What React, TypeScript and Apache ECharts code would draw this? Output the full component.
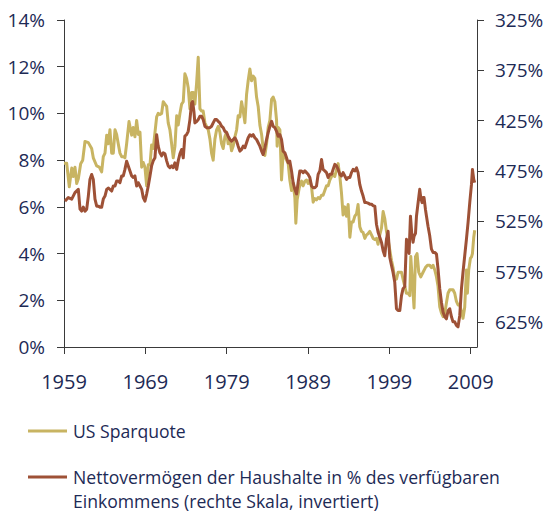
import React, { useEffect, useRef } from "react";
import * as echarts from "echarts";

const yearTicks = [1959, 1969, 1979, 1989, 1999, 2009];
const leftTicks = [0, 2, 4, 6, 8, 10, 12, 14];
const rightTicks = [325, 375, 425, 475, 525, 575, 625];

const seriesNames = [
  "US Sparquote",
  "Nettovermögen der Haushalte in % des verfügbaren",
  "Einkommens (rechte Skala, invertiert)",
];

const savingsYears = [
  1959.0, 1959.33, 1959.65, 1959.95, 1960.14, 1960.35, 1960.56, 1960.76, 1961.05, 1961.3,
  1961.58, 1961.99, 1962.4, 1962.6, 1963.02, 1963.34, 1963.63, 1963.83, 1964.04, 1964.25,
  1964.44, 1964.65, 1964.86, 1965.06, 1965.27, 1965.47, 1965.67, 1965.88, 1966.09, 1966.29,
  1966.49, 1966.7, 1966.99, 1967.32, 1967.51, 1967.72, 1967.93, 1968.13, 1968.34, 1968.55,
  1968.74, 1968.95, 1969.16, 1969.36, 1969.57, 1969.77, 1969.97, 1970.39, 1970.58, 1970.79,
  1971.0, 1971.2, 1971.41, 1971.62, 1971.81, 1972.02, 1972.23, 1972.43, 1972.64, 1972.85,
  1973.04, 1973.25, 1973.46, 1973.66, 1973.86, 1974.07, 1974.27, 1974.48, 1974.69, 1974.88,
  1975.09, 1975.3, 1975.5, 1975.71, 1975.92, 1976.11, 1976.32, 1976.73, 1976.94, 1977.14,
  1977.34, 1977.55, 1977.76, 1977.96, 1978.16, 1978.37, 1978.57, 1978.78, 1978.99, 1979.18,
  1979.39, 1979.6, 1979.8, 1980.01, 1980.22, 1980.41, 1980.62, 1980.83, 1981.03, 1981.24,
  1981.44, 1981.64, 1981.85, 1982.06, 1982.26, 1982.46, 1982.67, 1982.87, 1983.08, 1983.29,
  1983.48, 1983.69, 1983.9, 1984.1, 1984.31, 1984.52, 1984.71, 1984.92, 1985.13, 1985.2,
  1985.33, 1985.54, 1985.74, 1985.94, 1986.15, 1986.36, 1986.56, 1986.76, 1986.97, 1987.17,
  1987.38, 1987.5, 1987.66, 1987.91, 1988.08, 1988.2, 1988.4, 1988.61, 1988.82, 1989.01,
  1989.22, 1989.43, 1989.63, 1989.84, 1990.04, 1990.24, 1990.45, 1990.66, 1990.85, 1991.06,
  1991.27, 1991.47, 1991.68, 1991.89, 1992.08, 1992.29, 1992.5, 1992.7, 1992.91, 1993.11,
  1993.31, 1993.52, 1993.73, 1993.93, 1994.14, 1994.34, 1994.54, 1994.75, 1994.96, 1995.15,
  1995.36, 1995.57, 1995.77, 1995.98, 1996.19, 1996.38, 1996.59, 1996.8, 1997.0, 1997.21,
  1997.41, 1997.61, 1997.82, 1998.03, 1998.23, 1998.43, 1998.64, 1998.84, 1999.05, 1999.26,
  1999.45, 1999.66, 1999.87, 2000.07, 2000.28, 2000.49, 2000.68, 2000.89, 2001.1, 2001.3,
  2001.51, 2001.63, 2001.79, 2002.03, 2002.21, 2002.4, 2002.61, 2002.86, 2003.14, 2003.43,
  2003.68, 2003.96, 2004.17, 2004.37, 2004.58, 2004.79, 2004.98, 2005.19, 2005.4, 2005.6,
  2005.81, 2006.01, 2006.21, 2006.42, 2006.63, 2006.82, 2007.03, 2007.24, 2007.44, 2007.65,
  2007.86, 2008.05, 2008.26, 2008.47, 2008.59, 2008.75, 2008.96, 2009.09, 2009.21, 2009.37,
  2009.49,
];

const savingsRate = [
  7.87, 7.87, 6.86, 7.66, 7.3, 7.7, 7.0, 7.2, 7.85, 8.0,
  8.8, 8.75, 8.5, 8.1, 7.75, 7.7, 7.5, 8.15, 8.3, 9.07,
  8.7, 9.3, 8.3, 8.3, 9.3, 9.1, 8.7, 8.3, 8.15, 8.15,
  8.1, 8.7, 9.65, 9.07, 9.4, 9.0, 9.7, 9.1, 9.2, 7.7,
  7.9, 7.7, 6.9, 7.8, 7.8, 8.65, 8.5, 9.85, 10.0, 9.95,
  10.0, 10.5, 10.4, 10.3, 9.6, 9.3, 8.7, 8.1, 8.6, 9.9,
  9.5, 10.0, 10.4, 10.5, 11.7, 11.5, 11.1, 10.2, 10.9, 10.9,
  10.4, 11.3, 12.4, 10.2, 10.1, 10.1, 9.6, 9.3, 8.9, 8.3,
  8.0, 8.9, 9.3, 9.45, 9.2, 8.7, 8.5, 9.0, 9.2, 8.7,
  8.9, 8.4, 8.6, 9.0, 9.3, 9.9, 9.85, 10.5, 10.1, 9.6,
  10.8, 11.4, 11.9, 11.4, 11.6, 11.5, 10.7, 10.3, 9.5, 9.1,
  8.5, 8.2, 8.7, 9.4, 9.7, 10.6, 10.7, 10.5, 9.7, 8.6,
  9.4, 9.3, 7.15, 8.3, 8.15, 8.0, 7.85, 7.15, 6.7, 7.0,
  6.4, 5.3, 6.3, 6.8, 7.0, 7.1, 6.9, 7.1, 7.15, 7.0,
  7.15, 6.85, 6.2, 6.35, 6.3, 6.4, 6.35, 6.5, 6.5, 6.7,
  6.9, 6.9, 7.15, 7.3, 7.4, 7.3, 7.6, 7.85, 7.3, 6.6,
  5.65, 6.0, 5.6, 6.1, 4.7, 5.35, 5.35, 5.6, 5.7, 6.1,
  5.15, 4.95, 4.9, 4.65, 4.8, 4.85, 4.95, 4.8, 4.65, 4.6,
  4.65, 4.4, 4.8, 5.1, 5.8, 5.5, 4.95, 4.6, 4.15, 3.7,
  3.4, 2.9, 2.9, 3.2, 3.2, 3.2, 2.9, 2.6, 2.3, 2.3,
  2.2, 3.87, 3.0, 1.67, 3.87, 4.0, 3.2, 3.0, 3.2, 3.4,
  3.5, 3.5, 3.4, 3.5, 3.3, 3.0, 2.6, 1.72, 1.45, 1.3,
  1.45, 1.88, 2.3, 2.45, 2.45, 2.45, 2.3, 1.95, 1.8, 1.8,
  1.5, 1.23, 1.7, 3.3, 2.3, 3.3, 3.8, 3.85, 4.0, 4.7,
  5.0,
];

const wealthYears = [
  1959.12, 1959.53, 1959.95, 1960.35, 1960.76, 1960.97, 1961.17, 1961.37, 1961.58, 1961.79,
  1961.99, 1962.19, 1962.4, 1962.6, 1962.81, 1963.02, 1963.21, 1963.42, 1963.63, 1963.83,
  1964.04, 1964.25, 1964.44, 1964.65, 1964.86, 1965.06, 1965.27, 1965.47, 1965.67, 1965.88,
  1966.09, 1966.29, 1966.49, 1966.7, 1966.9, 1967.11, 1967.32, 1967.51, 1967.72, 1967.93,
  1968.13, 1968.34, 1968.55, 1968.74, 1968.95, 1969.16, 1969.36, 1969.57, 1969.77, 1969.97,
  1970.18, 1970.39, 1970.58, 1970.79, 1971.0, 1971.2, 1971.41, 1971.62, 1971.81, 1972.02,
  1972.23, 1972.43, 1972.64, 1972.85, 1973.04, 1973.25, 1973.46, 1973.66, 1973.86, 1974.07,
  1974.27, 1974.48, 1974.69, 1974.81, 1974.97, 1975.09, 1975.3, 1975.5, 1975.71, 1975.92,
  1976.11, 1976.32, 1976.53, 1976.73, 1976.94, 1977.14, 1977.34, 1977.55, 1977.76, 1977.96,
  1978.16, 1978.37, 1978.57, 1978.78, 1978.99, 1979.18, 1979.39, 1979.6, 1979.8, 1980.01,
  1980.22, 1980.41, 1980.62, 1980.83, 1981.03, 1981.24, 1981.44, 1981.64, 1981.85, 1982.06,
  1982.26, 1982.46, 1982.67, 1982.87, 1983.08, 1983.29, 1983.48, 1983.69, 1983.9, 1984.1,
  1984.31, 1984.52, 1984.71, 1984.92, 1985.13, 1985.33, 1985.54, 1985.74, 1985.94, 1986.15,
  1986.36, 1986.56, 1986.76, 1986.97, 1987.17, 1987.38, 1987.59, 1987.78, 1987.99, 1988.2,
  1988.4, 1988.61, 1988.82, 1989.01, 1989.22, 1989.43, 1989.63, 1989.84, 1990.04, 1990.24,
  1990.45, 1990.66, 1990.85, 1991.06, 1991.27, 1991.47, 1991.68, 1991.89, 1992.08, 1992.29,
  1992.5, 1992.7, 1992.91, 1993.11, 1993.31, 1993.52, 1993.73, 1993.93, 1994.14, 1994.34,
  1994.54, 1994.75, 1994.96, 1995.15, 1995.36, 1995.57, 1995.77, 1995.98, 1996.19, 1996.38,
  1996.59, 1996.8, 1997.0, 1997.21, 1997.41, 1997.61, 1997.82, 1998.03, 1998.23, 1998.43,
  1998.64, 1998.84, 1999.05, 1999.26, 1999.45, 1999.66, 1999.87, 2000.07, 2000.28, 2000.49,
  2000.68, 2000.89, 2001.1, 2001.3, 2001.42, 2001.59, 2001.75, 2001.91, 2002.03, 2002.21,
  2002.33, 2002.53, 2002.73, 2002.86, 2003.02, 2003.14, 2003.26, 2003.43, 2003.56, 2003.75,
  2003.96, 2004.17, 2004.37, 2004.58, 2004.79, 2004.98, 2005.19, 2005.4, 2005.6, 2005.81,
  2006.01, 2006.21, 2006.42, 2006.63, 2006.82, 2007.03, 2007.24, 2007.44, 2007.65, 2007.86,
  2008.05, 2008.26, 2008.47, 2008.67, 2008.88, 2009.09, 2009.21, 2009.37, 2009.49,
];

const wealthRatio = [
  505, 501.5, 503, 496.6, 493.3, 513, 515, 511, 515, 513,
  500, 483.4, 478.5, 483.4, 503, 510, 510, 511, 511, 503,
  500, 493.3, 492, 493.3, 495, 490, 490, 485, 485, 486.7,
  480, 480, 473.5, 465.3, 470, 475, 480, 481.5, 480, 490,
  486.7, 490, 493.3, 501.5, 505, 498, 490, 480, 470, 465,
  462, 439, 450.4, 457, 460, 457, 458, 465, 470, 471.8,
  470, 471.8, 467, 473.5, 465, 458, 453.7, 462, 440.5, 439,
  435.6, 424, 407.5, 406, 415.8, 427.3, 426, 424, 420.7, 420.7,
  424, 430.6, 432, 432, 432, 430.6, 427.3, 424, 424, 425.7,
  427.3, 430.6, 432, 435.6, 437, 440.5, 443.8, 445.5, 443.8, 442,
  445.5, 450.4, 455.3, 453.7, 450.4, 452, 447, 442, 439, 440.5,
  439, 442, 443.8, 447, 450.4, 455.3, 458.7, 452, 443.8, 437,
  430.6, 425.7, 430.6, 432, 435.6, 440.5, 439, 443.8, 455.4, 457,
  462, 467, 465.3, 475, 486.7, 493.3, 498, 486.7, 475, 475,
  476.7, 475, 476.7, 478.4, 481.6, 490, 491.6, 491.6, 490, 478.4,
  475, 463.6, 473.5, 475, 476.7, 481.6, 478.4, 478.4, 473.5, 468.5,
  470, 473.5, 478.4, 480, 476.7, 480, 483.4, 481.6, 481.6, 476.7,
  473.5, 475, 472, 476.7, 488.4, 495, 500, 506.5, 506.5, 507,
  508, 508, 509.7, 510, 528, 536, 541, 546, 554.4, 559.3,
  543, 535, 561, 569, 576, 585.7, 612, 613.8, 613.8, 599,
  592, 590, 543, 548, 557, 520, 537, 546, 540, 537,
  520, 506.5, 493.3, 501.5, 506.5, 501.5, 501.5, 513, 520, 530,
  539.5, 552.7, 556, 556, 557.7, 572.5, 592, 605.5, 615.4, 620,
  622, 614, 612, 620, 625, 625, 628.6, 630, 618.6, 592,
  575.7, 559.3, 543, 526.3, 506.5, 488.4, 473.5, 483.4, 486.7,
];

const GOLD = "#c8b462";
const BROWN = "#9e5136";
const TEXT = "#1d2a55";
const AXIS = "#3a3a3a";
const FONT = "Open Sans";

export default function App() {
  const ref = useRef<HTMLDivElement>(null);

  useEffect(() => {
    if (!ref.current) return;
    const chart = echarts.init(ref.current, null, { renderer: "svg" });

    const savingsData = savingsYears.map((y, i) => [y, savingsRate[i]]);
    const wealthData = wealthYears.map((y, i) => [y, wealthRatio[i]]);

    const axisLineStyle = { show: true, lineStyle: { color: AXIS, width: 1 } };
    const tickStyle = { show: true, length: 7, inside: false, lineStyle: { color: AXIS, width: 1 } };

    chart.setOption({
      animation: false,
      backgroundColor: "#ffffff",
      grid: {
        left: 64,
        top: 20,
        right: 70,
        bottom: 166,
        containLabel: false,
        outerBoundsMode: "none",
      },
      xAxis: {
        type: "value",
        min: 1959,
        max: 2009.77,
        axisLine: { ...axisLineStyle, onZero: false },
        axisTick: { ...tickStyle, customValues: yearTicks },
        axisLabel: {
          customValues: yearTicks,
          margin: 24,
          color: TEXT,
          fontFamily: FONT,
          fontSize: 20,
          formatter: (v: number) => String(v),
        },
        splitLine: { show: false },
      },
      yAxis: [
        {
          type: "value",
          position: "left",
          min: 0,
          max: 14,
          interval: 2,
          axisLine: { ...axisLineStyle, onZero: false },
          axisTick: { ...tickStyle, customValues: leftTicks },
          axisLabel: {
            customValues: leftTicks,
            margin: 19,
            color: TEXT,
            fontFamily: FONT,
            fontSize: 19,
            formatter: (v: number) => v + "%",
          },
          splitLine: { show: false },
        },
        {
          type: "value",
          position: "right",
          inverse: true,
          min: 325,
          max: 650,
          axisLine: { ...axisLineStyle, onZero: false },
          axisTick: { ...tickStyle, customValues: rightTicks },
          axisLabel: {
            customValues: rightTicks,
            margin: 18,
            color: TEXT,
            fontFamily: FONT,
            fontSize: 19,
            formatter: (v: number) => v + "%",
          },
          splitLine: { show: false },
        },
      ],
      series: [
        {
          name: seriesNames[0],
          type: "line",
          yAxisIndex: 0,
          data: savingsData,
          showSymbol: false,
          symbol: "none",
          lineStyle: { color: GOLD, width: 3, join: "round" },
          itemStyle: { color: GOLD },
          z: 2,
        },
        {
          name: seriesNames[1],
          type: "line",
          yAxisIndex: 1,
          data: wealthData,
          showSymbol: false,
          symbol: "none",
          lineStyle: { color: BROWN, width: 3, join: "round" },
          itemStyle: { color: BROWN },
          z: 3,
        },
      ],
      graphic: [
        {
          type: "line",
          shape: { x1: 28, y1: 431, x2: 67, y2: 431 },
          style: { stroke: GOLD, lineWidth: 3 },
        },
        {
          type: "text",
          x: 73,
          y: 431,
          style: {
            text: seriesNames[0],
            fill: TEXT,
            font: `17.6px "${FONT}"`,
            verticalAlign: "middle",
          },
        },
        {
          type: "line",
          shape: { x1: 28, y1: 477, x2: 67, y2: 477 },
          style: { stroke: BROWN, lineWidth: 3 },
        },
        {
          type: "text",
          x: 73,
          y: 477,
          style: {
            text: seriesNames[1],
            fill: TEXT,
            font: `17.6px "${FONT}"`,
            verticalAlign: "middle",
          },
        },
        {
          type: "text",
          x: 73,
          y: 501,
          style: {
            text: seriesNames[2],
            fill: TEXT,
            font: `17.6px "${FONT}"`,
            verticalAlign: "middle",
          },
        },
      ],
    });

    return () => chart.dispose();
  }, []);

  return (
    <div
      ref={ref}
      style={{ position: "absolute", left: 0, top: 0, width: 547, height: 513 }}
    />
  );
}
